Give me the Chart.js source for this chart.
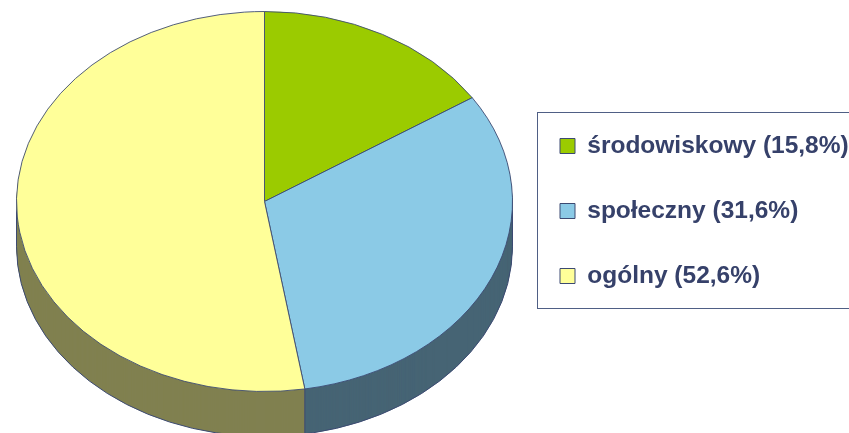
<!DOCTYPE html>
<html>
<head>
<meta charset="utf-8">
<script src="https://cdn.jsdelivr.net/npm/chart.js@4"></script>
<style>
html,body{margin:0;padding:0;background:#fff;overflow:hidden}
#wrap{width:849px;height:433px;position:relative}
</style>
</head>
<body>
<div id="wrap"><canvas id="c" width="849" height="433"></canvas></div>
<script>
// ---- data ----
const categories = ['środowiskowy', 'społeczny', 'ogólny'];
const shares = [15.8, 31.6, 52.6];
const topColors = ['#9BCB00', '#8BCAE6', '#FFFF99'];
const sideColors = ['#4E6600', '#466474', '#808050'];

// ---- style / geometry ----
const G = { cx: 264.5, cy: 201.5, rx: 248, ry: 190, depth: 45,
            legendLeft: 519.5, legendTop: 93.25,
            frame: { x: 537.5, y: 112.5, w: 330, h: 196 } };
const outline = '#3C4A72';
const textColor = '#36416A';

const labels = categories.map((c, i) => c + ' (' + shares[i].toFixed(1).replace('.', ',') + '%)');

const pie3d = {
  id: 'pie3d',
  afterLayout(chart) {
    chart.chartArea = { left: G.cx - G.rx, right: G.cx + G.rx, top: G.cy - G.rx, bottom: G.cy + G.rx,
                        width: 2 * G.rx, height: 2 * G.rx };
    const lg = chart.legend;
    if (lg) {
      lg.left = G.legendLeft; lg.right = chart.width; lg.width = lg.right - lg.left;
      lg.top = G.legendTop; lg.bottom = chart.height; lg.height = lg.bottom - lg.top;
    }
  },
  beforeDatasetsDraw(chart) {
    const ctx = chart.ctx;
    const meta = chart.getDatasetMeta(0);
    if (!meta.data.length) return;
    const cx = meta.data[0].x, cy = meta.data[0].y;
    const k = G.ry / G.rx;
    const ellipse = () => { ctx.translate(cx, cy); ctx.scale(1, k); ctx.translate(-cx, -cy); };
    // side walls
    for (let d = G.depth; d >= 1; d--) {
      ctx.save();
      ctx.translate(0, d);
      ellipse();
      meta.data.forEach((el, i) => {
        const o = el.options;
        el.options = Object.assign({}, o, { backgroundColor: sideColors[i], borderWidth: 0 });
        el.draw(ctx);
        el.options = o;
      });
      ctx.restore();
    }
    // side outlines
    ctx.save();
    ctx.strokeStyle = outline;
    ctx.lineWidth = 1;
    ctx.beginPath();
    ctx.ellipse(cx, cy + G.depth, G.rx, G.ry, 0, 0, Math.PI);
    ctx.stroke();
    ctx.beginPath();
    ctx.moveTo(cx - G.rx, cy); ctx.lineTo(cx - G.rx, cy + G.depth);
    ctx.moveTo(cx + G.rx, cy); ctx.lineTo(cx + G.rx, cy + G.depth);
    meta.data.forEach(el => {
      const a = el.startAngle;
      if (Math.sin(a) > 0.01) {
        const x = cx + G.rx * Math.cos(a), y = cy + G.ry * Math.sin(a);
        ctx.moveTo(x, y); ctx.lineTo(x, y + G.depth);
      }
    });
    ctx.stroke();
    ctx.restore();
    // top face: elliptical transform
    ctx.save();
    ellipse();
  },
  afterDatasetsDraw(chart) {
    chart.ctx.restore();
  },
  afterDraw(chart) {
    const ctx = chart.ctx;
    ctx.save();
    ctx.strokeStyle = '#4F5F85';
    ctx.lineWidth = 1;
    ctx.strokeRect(G.frame.x, G.frame.y, G.frame.w, G.frame.h);
    ctx.restore();
  }
};

new Chart(document.getElementById('c'), {
  type: 'pie',
  data: {
    labels: labels,
    datasets: [{
      data: shares,
      backgroundColor: topColors,
      borderColor: outline,
      borderWidth: 1,
      clip: false
    }]
  },
  options: {
    responsive: false,
    devicePixelRatio: 1,
    animation: false,
    events: [],
    radius: G.rx,
    layout: { padding: 0 },
    plugins: {
      tooltip: { enabled: false },
      legend: {
        position: 'right',
        align: 'start',
        labels: {
          boxWidth: 15,
          boxHeight: 15,
          padding: 40.5,
          color: textColor,
          font: { family: "'Liberation Sans', Arial, sans-serif", size: 24.5, weight: 'bold' }
        }
      }
    }
  },
  plugins: [pie3d]
});
</script>
</body>
</html>
